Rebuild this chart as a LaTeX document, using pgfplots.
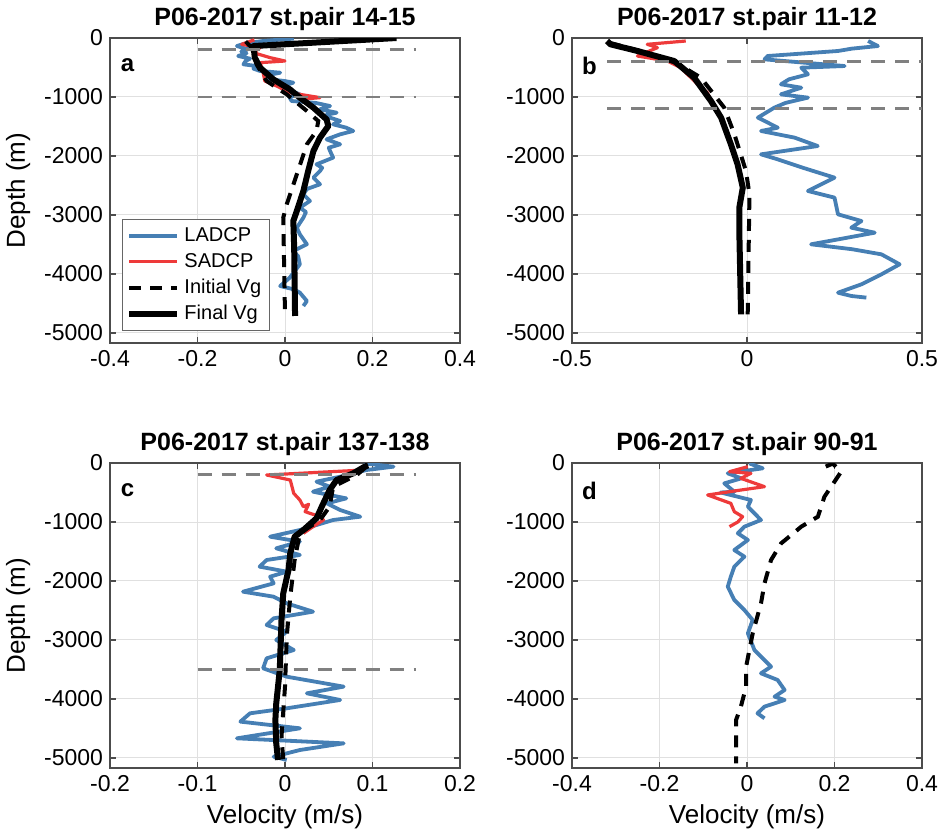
\documentclass[border=0pt]{standalone}
\usepackage{fontspec}
\setmainfont{Liberation Sans}
\usepackage{pgfplots}
\pgfplotsset{compat=1.18}

\definecolor{cLad}{RGB}{70,127,180}
\definecolor{cSad}{RGB}{238,58,58}
\definecolor{cRef}{RGB}{128,128,128}

\tikzset{lbl/.style={font=\bfseries\fontsize{12}{14}\selectfont}}
\pgfplotsset{
  panel/.style={
    scale only axis, width=175pt, height=152.5pt,
    ymin=-5170, ymax=0, ytick={-5000,-4000,...,0},
    grid=major, grid style={black!12, line width=0.5pt},
    tick align=inside, major tick length=3pt,
    axis line style={black!70, line width=0.6pt},
    tick style={black!70, line width=0.6pt},
    /pgf/number format/assume math mode=true,
    /pgf/number format/1000 sep={},
    ticklabel style={font=\fontsize{11.5}{12}\selectfont},
    title style={font=\bfseries\fontsize{12.5}{14}\selectfont, yshift=-6pt},
    label style={font=\fontsize{13}{14}\selectfont},
  },
  lad/.style={cLad, line width=1.9pt, line join=round},
  sad/.style={cSad, line width=1.6pt, line join=round},
  ivg/.style={black, line width=2pt, dash pattern=on 6pt off 4.5pt},
  fvg/.style={black, line width=3pt, line join=round},
  ref/.style={cRef, line width=1.4pt, dash pattern=on 7pt off 5pt, forget plot},
}

\begin{document}
\begin{tikzpicture}
\useasboundingbox (0,0) rectangle (469pt,-418pt);

% ---- a ----
\begin{axis}[panel, at={(55pt,-19pt)}, anchor=north west,
  xmin=-0.4, xmax=0.4, xtick={-0.4,-0.2,0,0.2,0.4},
  title={P06-2017 st.pair 14-15}, ylabel={Depth (m)},
  legend cell align=left,
  legend style={at={(0.034,0.039)}, anchor=south west, draw=black!60,
    line width=0.6pt, font=\fontsize{10}{12}\selectfont,
    row sep=0.3pt, inner sep=2pt},
  legend image code/.code={\draw[#1] (0pt,0pt) -- (24pt,0pt);}]
\addplot[lad] coordinates {
(0.02,-10) (-0.05,-50) (-0.09,-90) (-0.11,-136) (-0.085,-190) (-0.10,-230)
(-0.088,-260) (-0.107,-305) (-0.08,-350) (-0.09,-390) (-0.095,-446)
(-0.065,-475) (-0.072,-520) (-0.057,-559) (-0.011,-588) (-0.04,-630)
(-0.034,-700) (0.0,-730) (0.019,-757) (0.0,-800) (0.005,-870) (0.034,-955)
(0.01,-1000) (0.015,-1068) (0.07,-1100) (0.103,-1153) (0.08,-1209)
(0.118,-1266) (0.095,-1300) (0.103,-1350) (0.126,-1407) (0.11,-1463)
(0.14,-1520) (0.156,-1576) (0.126,-1633) (0.095,-1718) (0.126,-1802)
(0.10,-1860) (0.103,-1915) (0.11,-2028) (0.072,-2141) (0.085,-2200)
(0.08,-2254) (0.065,-2367) (0.08,-2480) (0.05,-2560) (0.042,-2650)
(0.057,-2763) (0.034,-2876) (0.048,-2950) (0.042,-3045) (0.027,-3215)
(0.034,-3328) (0.05,-3497) (0.019,-3610) (0.03,-3700) (0.034,-3836)
(0.011,-4062) (-0.011,-4204) (0.02,-4260) (0.034,-4317) (0.05,-4458)
(0.042,-4543)};
\addlegendentry{LADCP}
\addplot[sad] coordinates {
(-0.07,-30) (-0.099,-107) (-0.057,-164) (-0.072,-249) (-0.034,-333)
(0.0,-390) (-0.057,-418) (-0.05,-588) (-0.046,-729) (-0.019,-814)
(0.011,-927) (0.08,-1011) (0.034,-1040)};
\addlegendentry{SADCP}
\addplot[ivg] coordinates {
(-0.09,-60) (-0.076,-164) (-0.065,-446) (-0.042,-729) (0.004,-955)
(0.05,-1237) (0.076,-1407) (0.072,-1576) (0.05,-1802) (0.027,-2311)
(0.004,-2819) (-0.004,-3045) (0.0,-4684)};
\addlegendentry{Initial Vg}
\addplot[fvg] coordinates {
(0.255,0) (-0.072,-136) (-0.069,-333) (-0.057,-503) (-0.027,-700)
(0.011,-870) (0.034,-1011) (0.065,-1181) (0.095,-1379) (0.099,-1492)
(0.08,-1689) (0.065,-1915) (0.053,-2254) (0.042,-2593) (0.027,-2932)
(0.019,-3102) (0.021,-3554) (0.023,-4712)};
\addlegendentry{Final Vg}
\addplot[ref] coordinates {(-0.2,-200) (0.3,-200)};
\addplot[ref] coordinates {(-0.2,-1000) (0.3,-1000)};
\node[lbl] at (rel axis cs:0.05,0.91) {a};
\end{axis}

% ---- b ----
\begin{axis}[panel, at={(286pt,-19pt)}, anchor=north west,
  xmin=-0.5, xmax=0.5, xtick={-0.5,0,0.5},
  title={P06-2017 st.pair 11-12}]
\addplot[lad] coordinates {
(0.346,-51) (0.374,-136) (0.30,-180) (0.26,-220) (0.059,-305) (0.05,-362)
(0.279,-475) (0.155,-503) (0.174,-616) (0.12,-700) (0.097,-785)
(0.155,-842) (0.097,-955) (0.174,-1011) (0.11,-1100) (0.078,-1181)
(0.031,-1350) (0.088,-1520) (0.04,-1576) (0.136,-1689) (0.202,-1831)
(0.04,-1972) (0.088,-2057) (0.16,-2200) (0.25,-2367) (0.174,-2593)
(0.25,-2706) (0.26,-2989) (0.327,-3102) (0.298,-3215) (0.365,-3300)
(0.183,-3497) (0.30,-3580) (0.384,-3667) (0.436,-3836) (0.384,-4006)
(0.327,-4175) (0.26,-4317) (0.298,-4373) (0.341,-4401)};
\addplot[sad] coordinates {
(-0.175,-51) (-0.285,-107) (-0.256,-164) (-0.313,-305) (-0.227,-390)
(-0.189,-503) (-0.141,-785) (-0.113,-927) (-0.103,-1068)};
\addplot[ivg] coordinates {
(-0.394,-79) (-0.30,-230) (-0.203,-418) (-0.132,-672) (-0.065,-1181)
(-0.036,-1633) (-0.003,-2254) (0.007,-2650) (0.002,-4684)};
\addplot[fvg] coordinates {
(-0.40,-51) (-0.39,-107) (-0.313,-220) (-0.208,-390) (-0.151,-672)
(-0.103,-1068) (-0.074,-1350) (-0.046,-1802) (-0.027,-2141)
(-0.012,-2537) (-0.022,-2876) (-0.022,-3271) (-0.017,-4684)};
\addplot[ref] coordinates {(-0.4,-400) (0.5,-400)};
\addplot[ref] coordinates {(-0.4,-1200) (0.5,-1200)};
\node[lbl] at (rel axis cs:0.05,0.91) {b};
\end{axis}

% ---- c ----
\begin{axis}[panel, at={(55pt,-231.5pt)}, anchor=north west,
  xmin=-0.2, xmax=0.2, xtick={-0.2,-0.1,0,0.1,0.2},
  title={P06-2017 st.pair 137-138}, ylabel={Depth (m)},
  xlabel={Velocity (m/s)}]
\addplot[lad] coordinates {
(0.09,-6) (0.124,-62) (0.093,-119) (0.063,-232) (0.036,-316) (0.051,-401)
(0.032,-486) (0.07,-599) (0.048,-684) (0.063,-797) (0.086,-910)
(0.055,-966) (0.036,-1051) (0.017,-1136) (-0.017,-1249) (0.017,-1333)
(-0.01,-1446) (0.017,-1559) (-0.021,-1644) (-0.029,-1757) (0.002,-1842)
(-0.017,-1927) (-0.013,-2040) (-0.048,-2181) (-0.013,-2266) (0.002,-2379)
(0.032,-2520) (-0.013,-2633) (-0.021,-2746) (0.002,-2859) (-0.01,-3000)
(0.01,-3170) (-0.021,-3311) (-0.025,-3480) (0.002,-3622) (0.067,-3791)
(0.025,-3904) (0.063,-4017) (0.002,-4158) (-0.04,-4243) (-0.051,-4384)
(0.017,-4497) (-0.055,-4667) (0.067,-4752) (0.017,-4865) (-0.013,-4978)
(0.002,-5034)};
\addplot[sad] coordinates {
(0.09,-119) (-0.021,-203) (0.006,-288) (0.008,-401) (0.01,-514)
(0.017,-627) (0.021,-740) (0.027,-700) (0.023,-825) (0.04,-910)
(0.044,-966) (0.032,-1079) (0.021,-1192)};
\addplot[ivg] coordinates {
(0.093,-62) (0.082,-204) (0.055,-401) (0.051,-740) (0.040,-966)
(0.017,-1192) (0.011,-1644) (0.006,-2266) (0.002,-2944) (0.0,-3791)
(-0.004,-4639) (-0.002,-5034)};
\addplot[fvg] coordinates {
(0.095,-40) (0.091,-62) (0.078,-175) (0.059,-288) (0.051,-458)
(0.042,-740) (0.036,-938) (0.021,-1136) (0.011,-1249) (0.006,-1531)
(0.004,-1814) (-0.002,-2209) (-0.004,-2661) (-0.006,-3509) (-0.01,-4074)
(-0.011,-4356) (-0.01,-4752) (-0.008,-5034)};
\addplot[ref] coordinates {(-0.1,-200) (0.15,-200)};
\addplot[ref] coordinates {(-0.1,-3500) (0.15,-3500)};
\node[lbl] at (rel axis cs:0.05,0.91) {c};
\end{axis}

% ---- d ----
\begin{axis}[panel, at={(286pt,-231.5pt)}, anchor=north west,
  xmin=-0.4, xmax=0.4, xtick={-0.4,-0.2,0,0.2,0.4},
  title={P06-2017 st.pair 90-91}, xlabel={Velocity (m/s)}]
\addplot[lad] coordinates {
(0.005,-6) (0.036,-90) (-0.044,-175) (-0.013,-260) (-0.052,-345)
(-0.029,-486) (-0.06,-500) (0.009,-627) (0.002,-740) (0.032,-966)
(-0.006,-1079) (-0.021,-1192) (0.002,-1305) (-0.029,-1475) (-0.006,-1588)
(-0.029,-1757) (-0.037,-1927) (-0.044,-2096) (-0.029,-2322)
(-0.006,-2492) (0.013,-2661) (0.002,-2887) (0.017,-3170) (0.055,-3452)
(0.032,-3565) (0.07,-3678) (0.086,-3848) (0.063,-3961) (0.086,-4017)
(0.04,-4130) (0.024,-4243) (0.04,-4328)};
\addplot[sad] coordinates {
(0.002,-62) (-0.04,-147) (0.009,-175) (-0.014,-260) (0.04,-401)
(-0.014,-458) (-0.09,-542) (-0.037,-684) (-0.029,-825) (-0.01,-910)
(-0.021,-1000) (-0.04,-1079)};
\addplot[ivg] coordinates {
(0.18,-60) (0.196,-10) (0.215,-150) (0.20,-316) (0.177,-571)
(0.162,-910) (0.124,-1079) (0.078,-1362) (0.055,-1644) (0.04,-2040)
(0.032,-2379) (0.013,-2887) (-0.002,-3452) (-0.002,-3791)
(-0.014,-4130) (-0.025,-4356) (-0.025,-5091)};
\node[lbl] at (rel axis cs:0.05,0.91) {d};
\end{axis}
\end{tikzpicture}
\end{document}
